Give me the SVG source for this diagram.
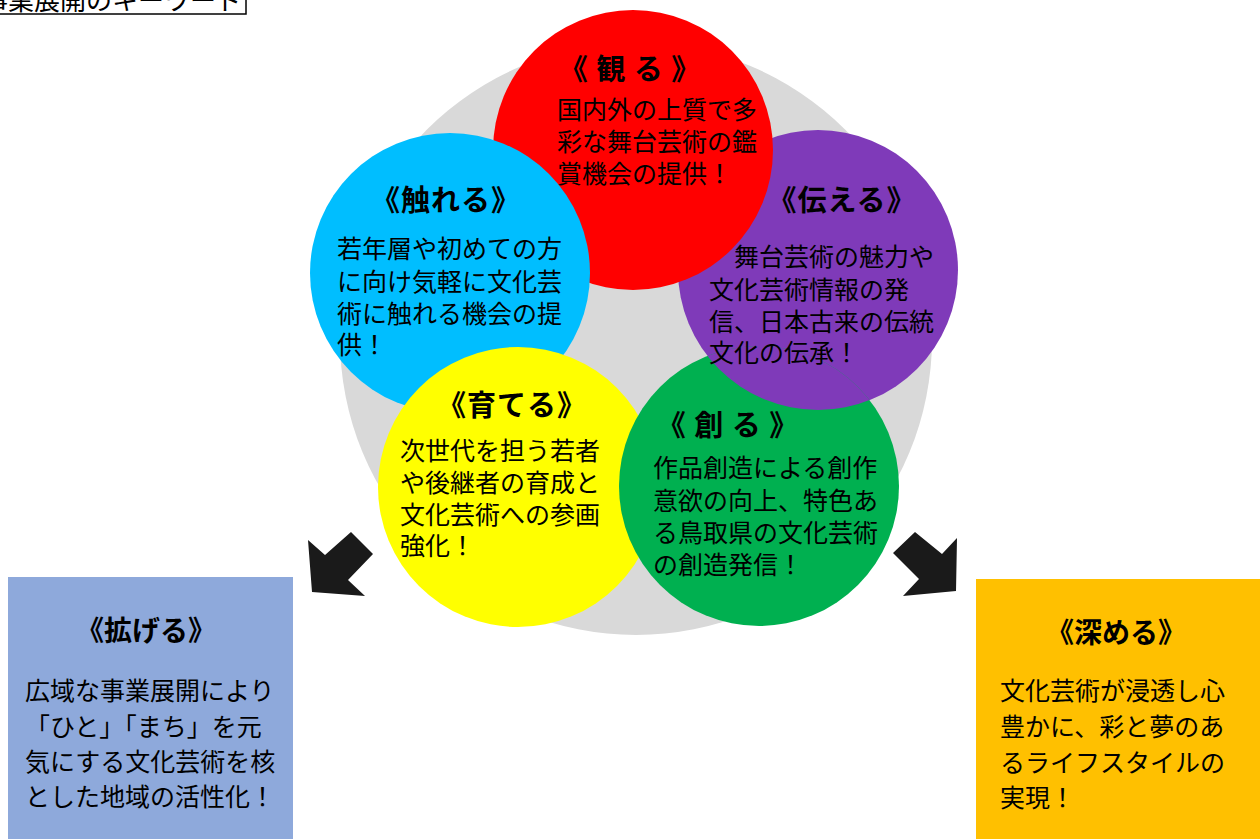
<svg xmlns="http://www.w3.org/2000/svg" width="1260" height="839" viewBox="0 0 1260 839">
<style>
.t{font-family:"Noto Sans CJK JP","Noto Sans CJK SC",sans-serif;fill:#000;}
.ttl{font-size:29px;font-weight:bold;text-anchor:middle;letter-spacing:1px;}
.btl{font-size:28px;font-weight:bold;text-anchor:middle;}
.body{font-size:25px;}
.arrow{fill:#1a1a1a;}
</style>
<defs>
<clipPath id="greenClip"><circle cx="759" cy="486" r="140"/></clipPath>
</defs>
<rect width="1260" height="839" fill="#fff"/>
<g id="title-label">
<rect x="-5" y="-5" width="251" height="19" fill="#fff" stroke="#000" stroke-width="1.5"/>
<text class="t" x="-18" y="10" font-size="26">事業展開のキーワード</text>
</g>
<g id="bg-circle"><circle cx="636" cy="339" r="296" fill="#D9D9D9"/></g>
<g id="circles">
<circle id="c-tsutaeru" cx="818" cy="270" r="140" fill="#7F3AB9"/>
<circle id="c-miru" cx="633" cy="150" r="140" fill="#FF0000"/>
<circle id="c-fureru" cx="450" cy="273" r="140" fill="#00BEFF"/>
<circle id="c-sodateru" cx="518" cy="487" r="140" fill="#FFFF00"/>
<circle id="c-tsukuru" cx="759" cy="486" r="140" fill="#00B050"/>
<circle cx="818" cy="270" r="140" fill="#7F3AB9" clip-path="url(#greenClip)"/>
</g>
<g id="connectors">
<polygon class="arrow" points="308,540 312,592 365,596 348,580 373,554 351,532 325,555"/>
<polygon class="arrow" points="893,553 915,532 942,554 957,538 956,591 903,596 919,579"/>
</g>
<g id="node-miru">
<text class="t ttl" x="630" y="80" letter-spacing="3">《 観 る 》</text>
<text class="t body" x="557" y="119">国内外の上質で多</text>
<text class="t body" x="557" y="151">彩な舞台芸術の鑑</text>
<text class="t body" x="557" y="183">賞機会の提供！</text>
</g>
<g id="node-fureru">
<text class="t ttl" x="446" y="211">《触れる》</text>
<text class="t body" x="337" y="258">若年層や初めての方</text>
<text class="t body" x="337" y="291">に向け気軽に文化芸</text>
<text class="t body" x="337" y="323">術に触れる機会の提</text>
<text class="t body" x="337" y="354">供！</text>
</g>
<g id="node-tsutaeru">
<text class="t ttl" x="842" y="211">《伝える》</text>
<text class="t body" x="709" y="266">　舞台芸術の魅力や</text>
<text class="t body" x="709" y="299">文化芸術情報の発</text>
<text class="t body" x="709" y="331">信、日本古来の伝統</text>
<text class="t body" x="709" y="362">文化の伝承！</text>
</g>
<g id="node-sodateru">
<text class="t ttl" x="512" y="416">《育てる》</text>
<text class="t body" x="400" y="460">次世代を担う若者</text>
<text class="t body" x="400" y="492">や後継者の育成と</text>
<text class="t body" x="400" y="524">文化芸術への参画</text>
<text class="t body" x="400" y="555">強化！</text>
</g>
<g id="node-tsukuru">
<text class="t ttl" x="728" y="436" letter-spacing="3">《 創 る 》</text>
<text class="t body" x="653" y="477">作品創造による創作</text>
<text class="t body" x="653" y="510">意欲の向上、特色あ</text>
<text class="t body" x="653" y="542">る鳥取県の文化芸術</text>
<text class="t body" x="653" y="574">の創造発信！</text>
</g>
<g id="node-hirogeru">
<rect x="8" y="577" width="285" height="270" fill="#8EA9DB"/>
<text class="t btl" x="146" y="641">《拡げる》</text>
<text class="t body" x="25" y="700">広域な事業展開により</text>
<text class="t body" x="25" y="736">「ひと」「まち」を元</text>
<text class="t body" x="25" y="771">気にする文化芸術を核</text>
<text class="t body" x="25" y="806">とした地域の活性化！</text>
</g>
<g id="node-fukameru">
<rect x="976" y="579" width="290" height="270" fill="#FFC000"/>
<text class="t btl" x="1116" y="643">《深める》</text>
<text class="t body" x="1000" y="700">文化芸術が浸透し心</text>
<text class="t body" x="1000" y="736">豊かに、彩と夢のあ</text>
<text class="t body" x="1000" y="772">るライフスタイルの</text>
<text class="t body" x="1000" y="807">実現！</text>
</g>
</svg>
